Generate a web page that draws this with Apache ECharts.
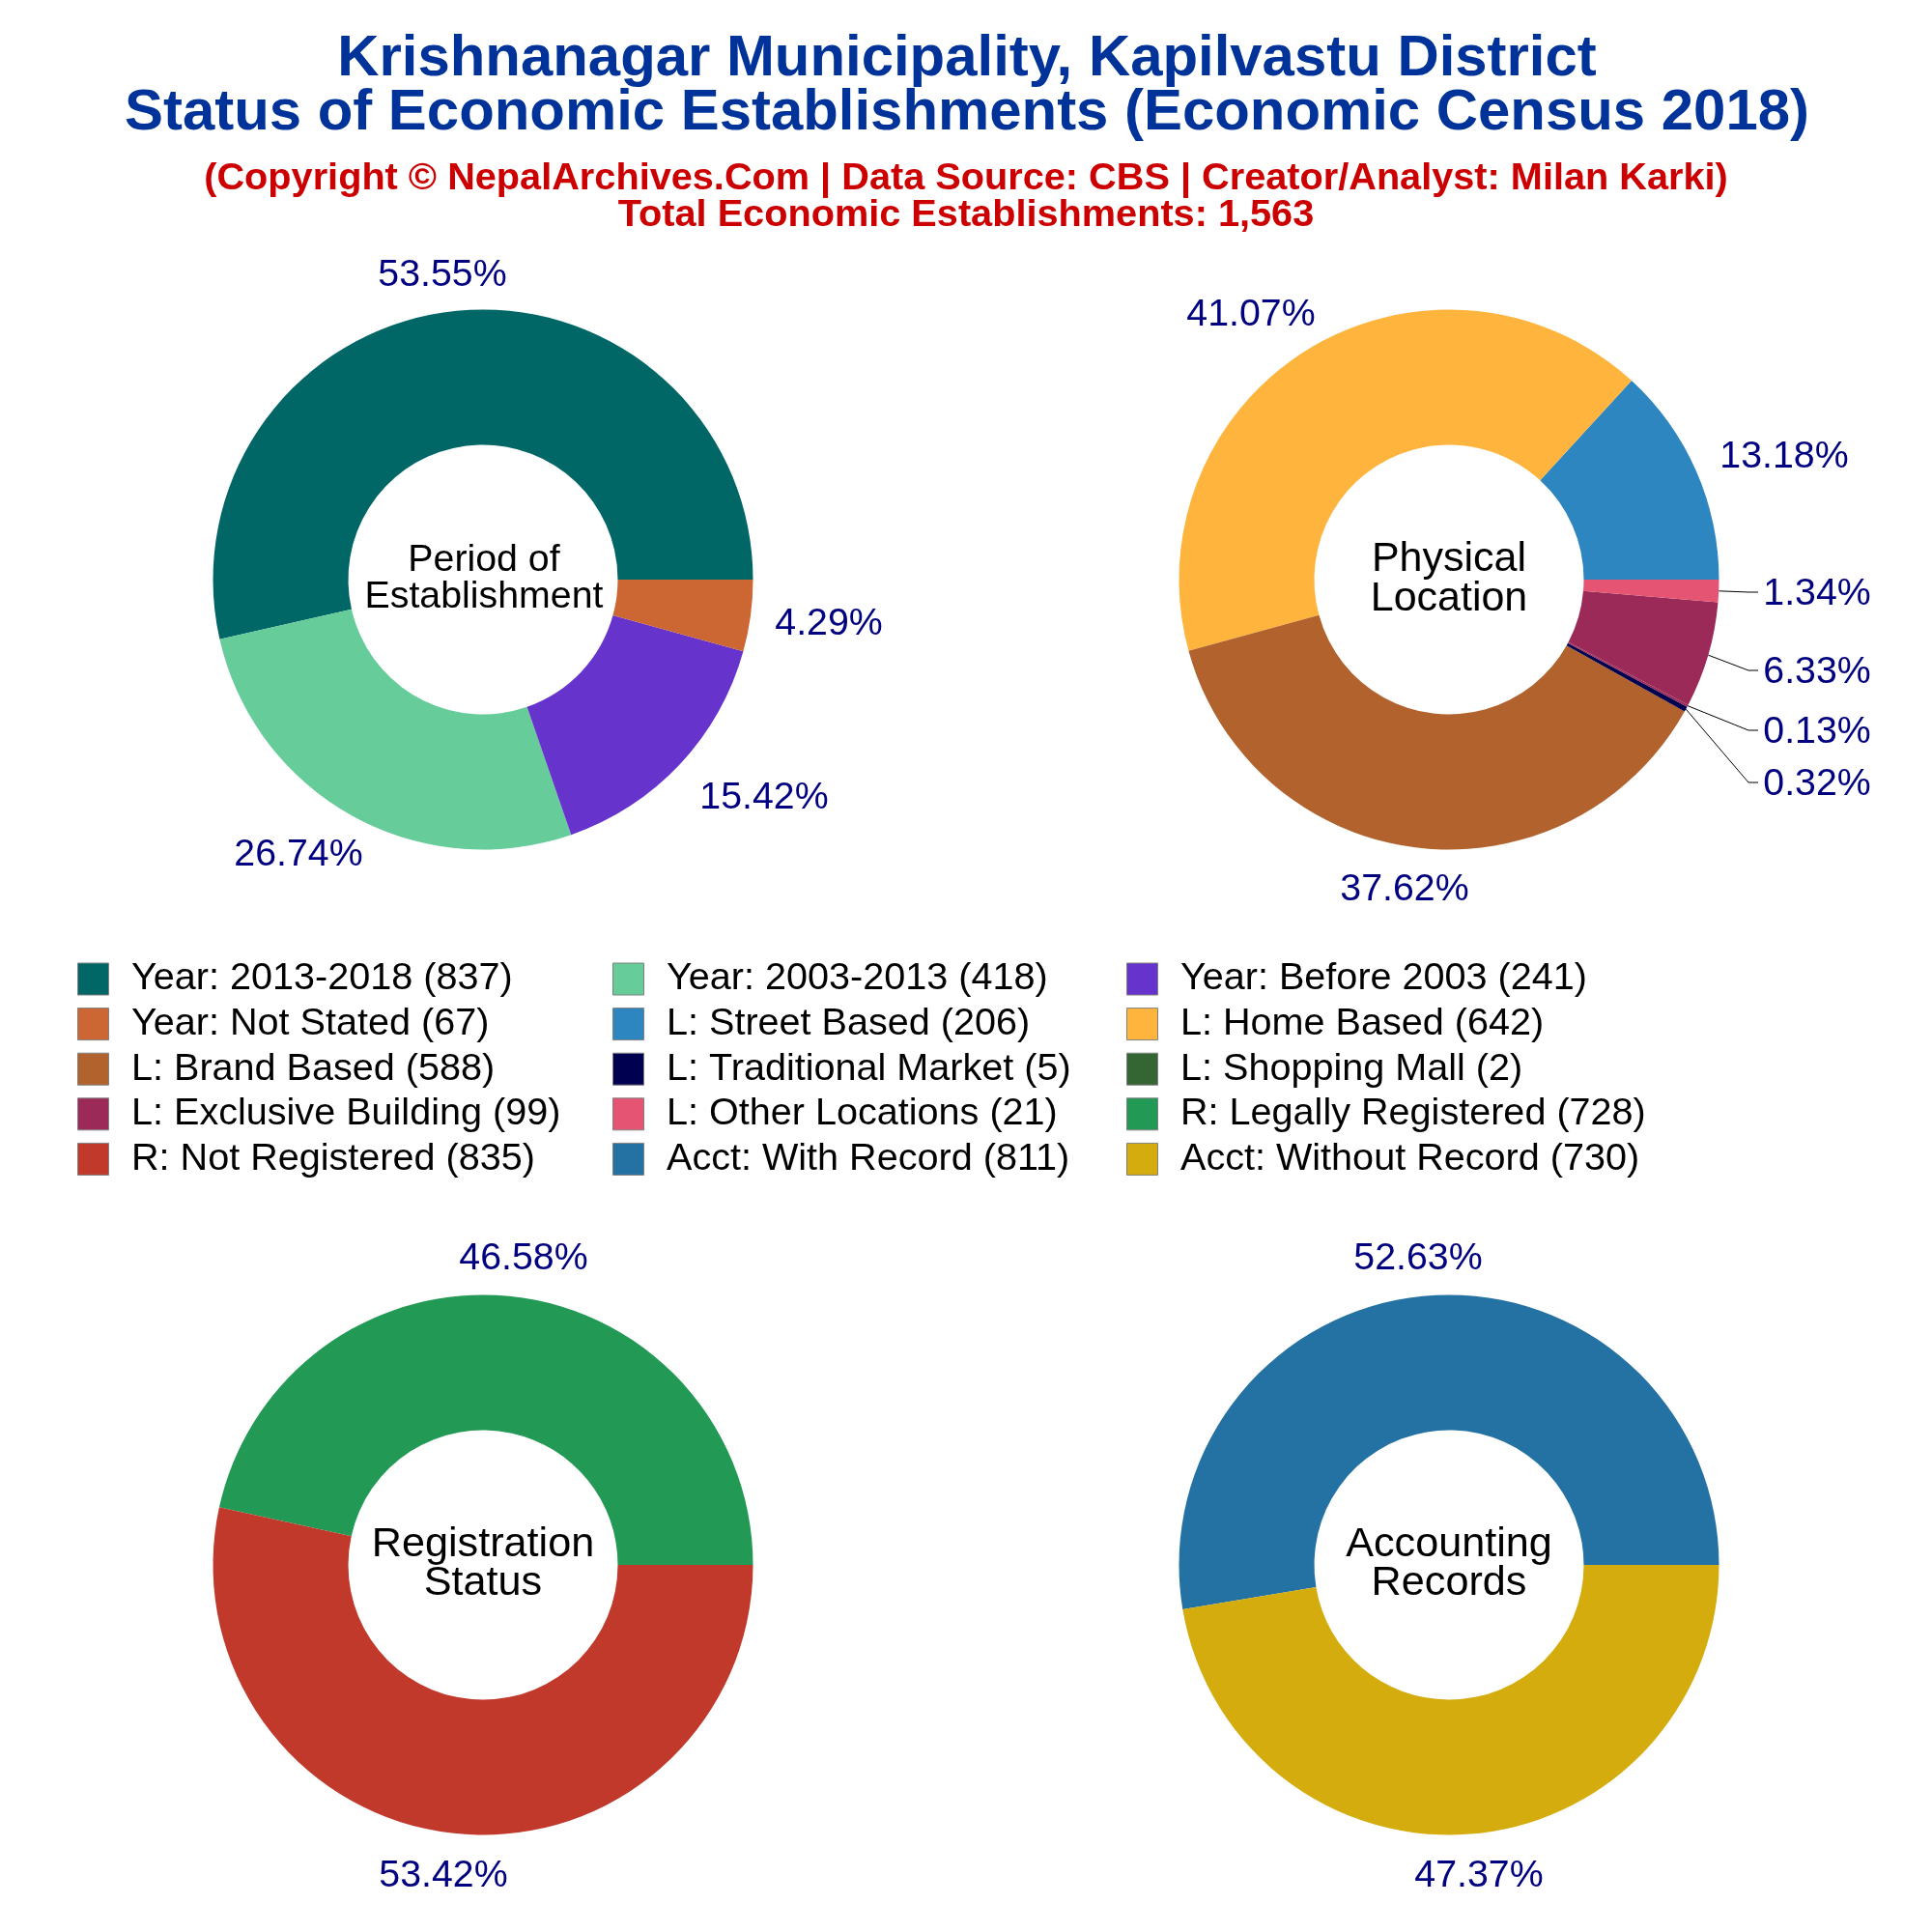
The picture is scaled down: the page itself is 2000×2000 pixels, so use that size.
<!DOCTYPE html>
<html>
<head>
<meta charset="utf-8">
<title>Krishnanagar Municipality</title>
<script src="https://cdn.jsdelivr.net/npm/echarts@6/dist/echarts.min.js"></script>
<style>
html,body{margin:0;padding:0;background:#fff;}
#main{width:2000px;height:2000px;}
</style>
</head>
<body>
<div id="main"></div>
<script>
var periodNames = ['Year: 2013-2018', 'Year: 2003-2013', 'Year: Before 2003', 'Year: Not Stated'];
var periodValues = [837, 418, 241, 67];
var locationNames = ['L: Street Based', 'L: Home Based', 'L: Brand Based', 'L: Traditional Market', 'L: Shopping Mall', 'L: Exclusive Building', 'L: Other Locations'];
var locationValues = [206, 642, 588, 5, 2, 99, 21];
var registrationNames = ['R: Legally Registered', 'R: Not Registered'];
var registrationValues = [728, 835];
var accountNames = ['Acct: With Record', 'Acct: Without Record'];
var accountValues = [811, 730];

var periodColors = ['#006666', '#66CC99', '#6633CC', '#CC6633'];
// the mall sliver does not show green in the picture, only its legend swatch does
var locationColors = ['#2E86C1', '#FFB43E', '#B1622D', '#000050', '#9C2A58', '#9C2A58', '#E55472'];
var mallSwatch = '#336633';
var registrationColors = ['#229954', '#C0392B'];
var accountColors = ['#2471A3', '#D4AC0D'];

// label centres, leader lines bend at x=1810
var periodSpots = [[458, 285], [309, 885], [791, 826], [858, 646]];
var locationSpots = [[1847, 473], [1295, 326], [1454, 921], [1881, 812], [1881, 758], [1881, 696], [1881, 615]];
var registrationSpots = [[542, 1303], [459, 1942]];
var accountSpots = [[1468, 1303], [1531, 1942]];
var leaderLabels = {3: true, 4: true, 5: true, 6: true};

function legendName(name, value) {
    return name + ' (' + value + ')';
}

function makePie(names, values, colors, spots, center, leaders) {
    var total = values.reduce(function (a, b) { return a + b; }, 0);
    var data = names.map(function (name, i) {
        return {
            name: legendName(name, values[i]),
            value: values[i],
            itemStyle: {color: colors[i]},
            labelLine: {show: !!(leaders && leaders[i])}
        };
    });
    return {
        type: 'pie',
        radius: [139.5, 279.5],
        center: center,
        startAngle: 0,
        clockwise: false,
        silent: true,
        avoidLabelOverlap: false,
        label: {
            show: true,
            position: 'outside',
            color: '#000080',
            fontSize: 39.3,
            fontFamily: 'Liberation Sans',
            formatter: function (params) {
                return (params.value / total * 100).toFixed(2) + '%';
            }
        },
        labelLine: {lineStyle: {color: '#000', width: 1}},
        labelLayout: function (params) {
            var spot = spots[params.dataIndex];
            var res = {x: spot[0], y: spot[1], align: 'center', verticalAlign: 'middle'};
            if (leaders && leaders[params.dataIndex] && params.labelLinePoints) {
                res.labelLinePoints = [params.labelLinePoints[0], [1810, spot[1] - 2], [1820, spot[1] - 2]];
            }
            return res;
        },
        data: data
    };
}

function makeLegend(left, items) {
    return {
        orient: 'vertical',
        left: left,
        top: 993.5,
        padding: 0,
        itemWidth: 32,
        itemHeight: 33,
        itemGap: 6.6,
        icon: 'rect',
        selectedMode: false,
        itemStyle: {borderColor: '#808080', borderWidth: 1},
        textStyle: {
            color: '#000',
            fontSize: 39.6,
            fontFamily: 'Liberation Sans',
            padding: [0, 0, 0, 18.5]
        },
        data: items
    };
}

function textBlock(text, x, y, size, color, weight, lineHeight) {
    return {
        text: text,
        left: x,
        top: y,
        padding: 0,
        textAlign: 'center',
        textStyle: {
            color: color,
            fontSize: size,
            fontWeight: weight,
            fontFamily: 'Liberation Sans',
            lineHeight: lineHeight
        }
    };
}

var legendCol1 = [
    legendName(periodNames[0], periodValues[0]),
    legendName(periodNames[3], periodValues[3]),
    legendName(locationNames[2], locationValues[2]),
    legendName(locationNames[5], locationValues[5]),
    legendName(registrationNames[1], registrationValues[1])
];
var legendCol2 = [
    legendName(periodNames[1], periodValues[1]),
    legendName(locationNames[0], locationValues[0]),
    legendName(locationNames[3], locationValues[3]),
    legendName(locationNames[6], locationValues[6]),
    legendName(accountNames[0], accountValues[0])
];
var legendCol3 = [
    legendName(periodNames[2], periodValues[2]),
    legendName(locationNames[1], locationValues[1]),
    {name: legendName(locationNames[4], locationValues[4]), itemStyle: {color: mallSwatch}},
    legendName(registrationNames[0], registrationValues[0]),
    legendName(accountNames[1], accountValues[1])
];

var myChart = echarts.init(document.getElementById('main'), null, {renderer: 'canvas'});
myChart.setOption({
    backgroundColor: '#fff',
    animation: false,
    title: [
        textBlock('Krishnanagar Municipality, Kapilvastu District\nStatus of Economic Establishments (Economic Census 2018)', 1001, 33, 59.9, '#003399', 'bold', 56),
        textBlock('(Copyright © NepalArchives.Com | Data Source: CBS | Creator/Analyst: Milan Karki)\nTotal Economic Establishments: 1,563', 1000, 166, 39.7, '#CC0000', 'bold', 38),
        textBlock('Period of\nEstablishment', 501, 561, 39.3, '#000', 'normal', 38),
        textBlock('Physical\nLocation', 1500, 559, 43, '#000', 'normal', 41),
        textBlock('Registration\nStatus', 500, 1579, 43.2, '#000', 'normal', 40),
        textBlock('Accounting\nRecords', 1500, 1579, 43.2, '#000', 'normal', 40)
    ],
    legend: [
        makeLegend(80, legendCol1),
        makeLegend(634, legendCol2),
        makeLegend(1166, legendCol3)
    ],
    series: [
        makePie(periodNames, periodValues, periodColors, periodSpots, [500, 600]),
        makePie(locationNames, locationValues, locationColors, locationSpots, [1500, 600], leaderLabels),
        makePie(registrationNames, registrationValues, registrationColors, registrationSpots, [500, 1620]),
        makePie(accountNames, accountValues, accountColors, accountSpots, [1500, 1620])
    ]
});
</script>
</body>
</html>
